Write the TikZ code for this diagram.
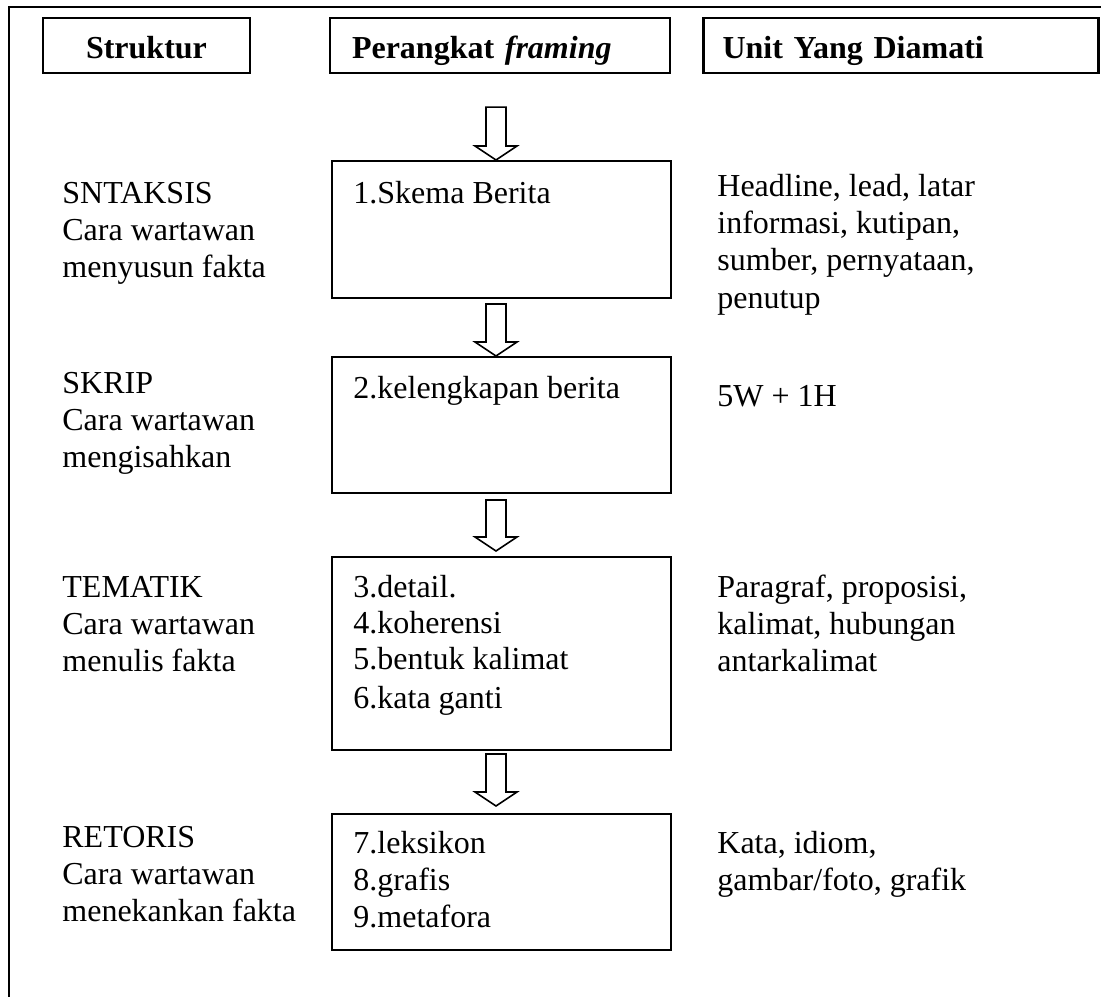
\documentclass[tikz,border=0pt]{standalone}
\usepackage{fontspec}
\setmainfont{Liberation Serif}
\usetikzlibrary{calc}

% hollow block arrow from #1 (top of shaft) down to #2 (tip)
\newcommand{\hollowarrow}[2]{%
\draw[arr] let \p1=(#1), \p2=(#2) in
  (\x2-5pt,\y1) -- (\x2+5pt,\y1) -- (\x2+5pt,\y2+7pt) -- (\x2+10.5pt,\y2+7pt)
  -- (\x2,\y2) -- (\x2-10.5pt,\y2+7pt) -- (\x2-5pt,\y2+7pt) -- cycle;}

\begin{document}
\begin{tikzpicture}[x=0.5pt,y=-0.5pt,
  hdr/.style={draw, line width=1.1pt, minimum height=27.5pt, inner ysep=0pt,
    text height=12.5pt, text depth=0pt, font=\bfseries\fontsize{16}{18.5}\selectfont},
  box/.style={draw, line width=1pt, minimum width=169.5pt, inner sep=0pt},
  txt/.style={anchor=base west, inner sep=0pt, font=\fontsize{16}{18.5}\selectfont},
  arr/.style={line width=0.8pt, fill=white, line join=miter}]
\useasboundingbox (0,0) rectangle (1101,997);

\draw[line width=0.75pt] (1101,7) -- (9,7) -- (9,997);

\node[hdr, minimum width=103.5pt] (h1) at (146.5,45.5) {Struktur};
\node[hdr, text width=148pt, inner xsep=11pt, align=left] (h2) at (500,45.5) {Perangkat \textit{framing}};
\node[hdr, text width=178.5pt, inner xsep=9.5pt, align=left] (h3) at (901,45.5) {Unit Yang Diamati};

\node[box, minimum height=68.5pt] (b1) at (501,229.5) {};
\node[box, minimum height=68pt] (b2) at (501,425) {};
\node[box, minimum height=96.5pt] (b3) at (501,653.5) {};
\node[box, minimum height=68pt] (b4) at (501,882) {};

\hollowarrow{[xshift=-2.5pt,yshift=-16.5pt]h2.south}{[xshift=-2.5pt]b1.north}
\hollowarrow{[xshift=-2.5pt,yshift=-2.5pt]b1.south}{[xshift=-2.5pt]b2.north}
\hollowarrow{[xshift=-2.5pt,yshift=-3pt]b2.south}{[xshift=-2.5pt,yshift=2.5pt]b3.north}
\hollowarrow{[xshift=-2.5pt,yshift=-1.5pt]b3.south}{[xshift=-2.5pt,yshift=3.5pt]b4.north}

\foreach \y/\t [count=\i] in {203/SNTAKSIS, 240/Cara wartawan, 277/menyusun fakta,
    393/SKRIP, 430/Cara wartawan, 467/mengisahkan,
    597/TEMATIK, 634/Cara wartawan, 671/menulis fakta,
    847/RETORIS, 884/Cara wartawan, 921/menekankan fakta}
  \node[txt] (l\i) at (62,\y) {\t};

\foreach \y/\t [count=\i] in {203/1.Skema Berita, 398/2.kelengkapan berita,
    597/3.detail., 633/4.koherensi, 669/5.bentuk kalimat, 708/6.kata ganti,
    853/7.leksikon, 890/8.grafis, 927/9.metafora}
  \node[txt] (m\i) at (353,\y) {\t};

\foreach \y/\t [count=\i] in {196/{Headline, lead, latar}, 233/{informasi, kutipan,},
    270/{sumber, pernyataan,}, 308/penutup, 406/5W + 1H,
    597/{Paragraf, proposisi,}, 634/{kalimat, hubungan}, 671/antarkalimat,
    853/{Kata, idiom,}, 890/{gambar/foto, grafik}}
  \node[txt] (r\i) at (717,\y) {\t};

\end{tikzpicture}
\end{document}
